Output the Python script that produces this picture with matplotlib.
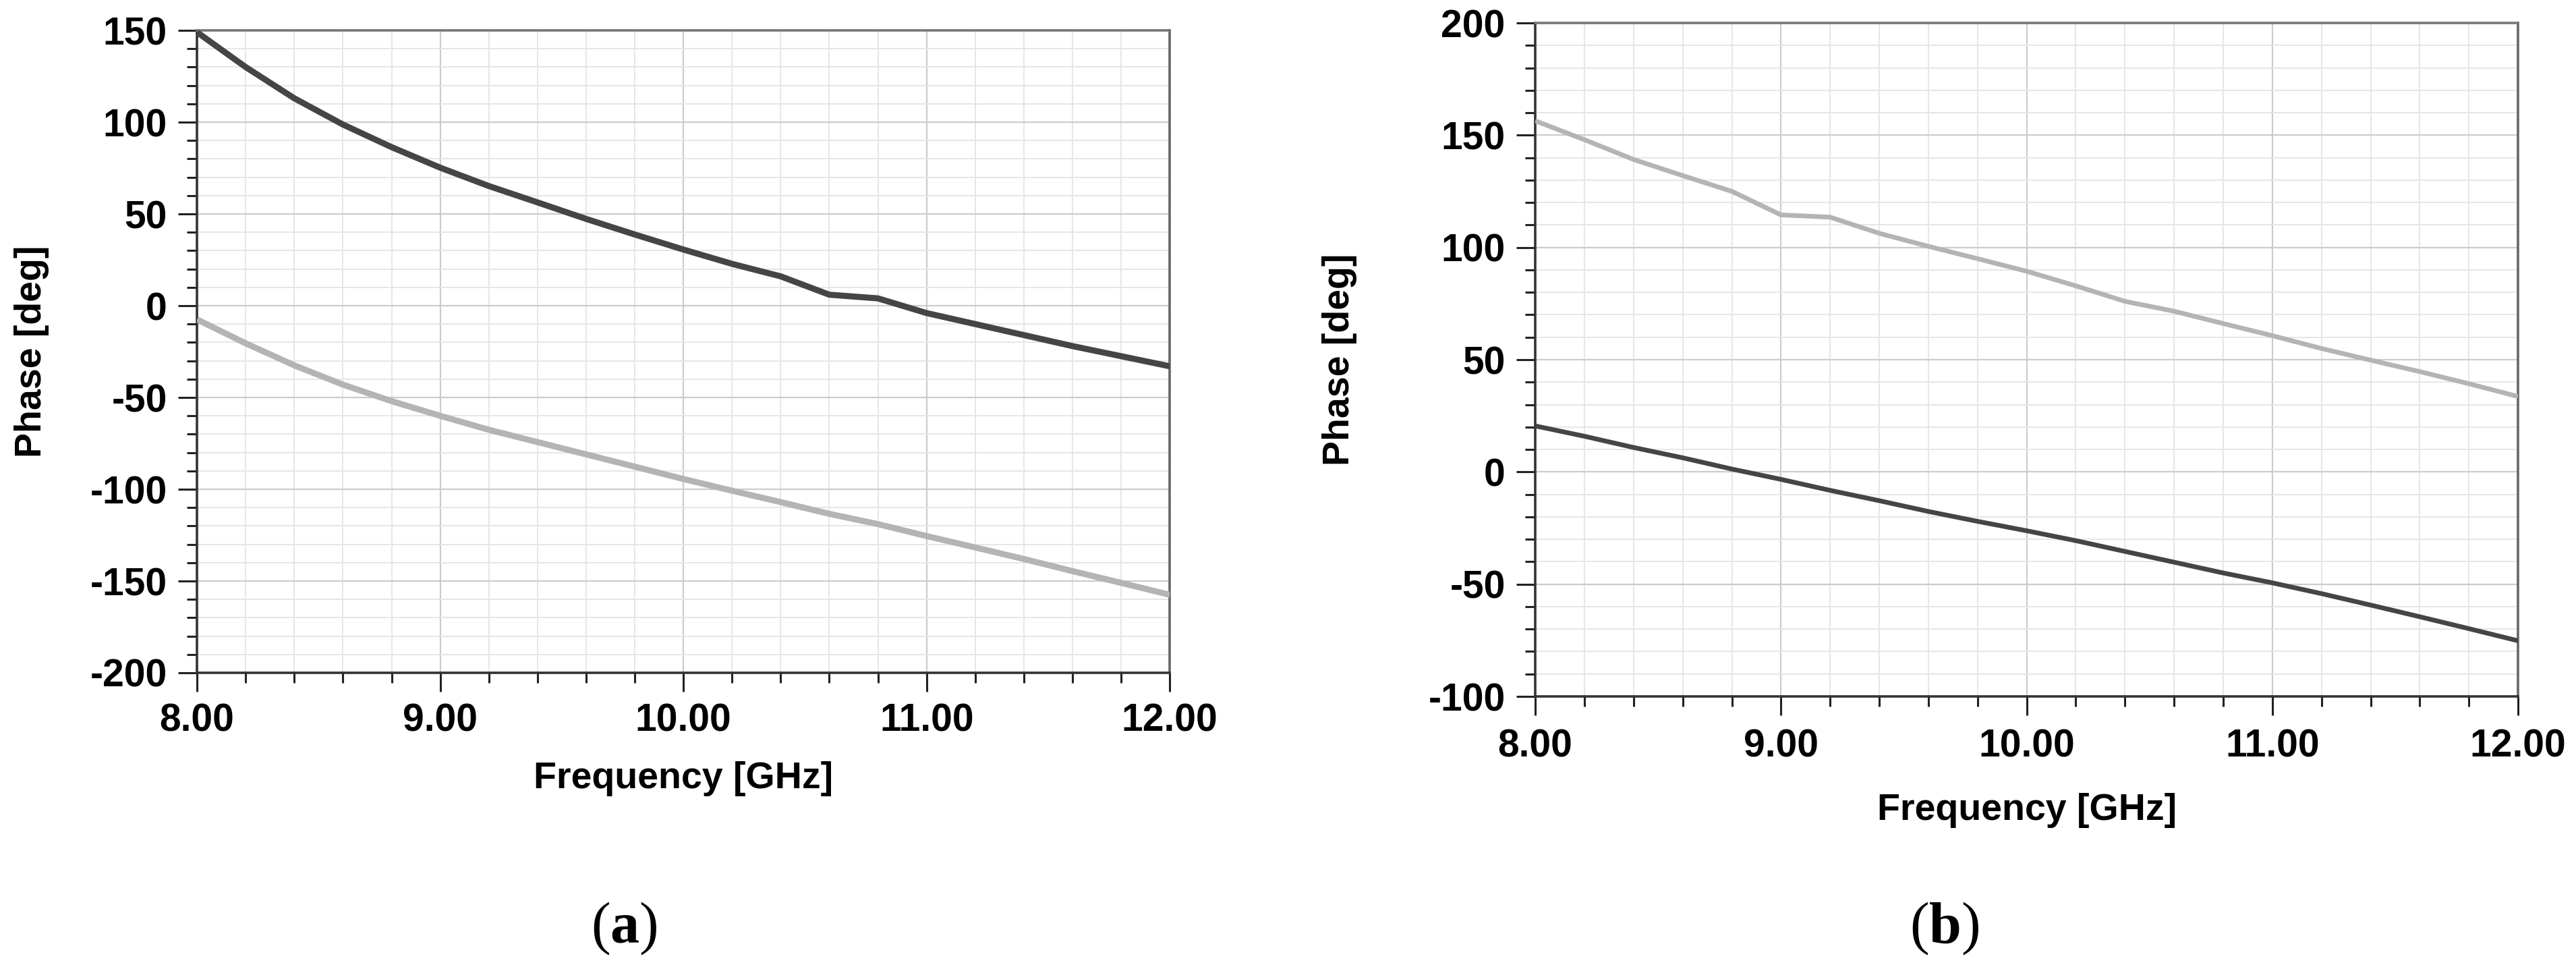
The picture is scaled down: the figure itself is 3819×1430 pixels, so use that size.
import matplotlib
matplotlib.use("Agg")
import matplotlib.pyplot as plt
from matplotlib.ticker import MultipleLocator, FormatStrFormatter

plt.rcParams['font.family'] = ['Liberation Sans', 'DejaVu Sans']
plt.rcParams['axes.unicode_minus'] = False
plt.rcParams['mathtext.fontset'] = 'custom'
plt.rcParams['mathtext.rm'] = 'Liberation Serif'
plt.rcParams['mathtext.bf'] = 'Liberation Serif:bold'

# frequency grid (GHz)
freq = [8.0, 8.2, 8.4, 8.6, 8.8, 9.0, 9.2, 9.4, 9.6, 9.8, 10.0,
        10.2, 10.4, 10.6, 10.8, 11.0, 11.2, 11.4, 11.6, 11.8, 12.0]

# panel (a)
dark_a = [149, 130, 113, 98.7, 86.4, 75.2, 65.2, 56.3, 47.3, 38.8, 30.6,
          22.8, 16, 6, 4, -4, -10, -16, -22, -27.5, -33]
light_a = [-7.5, -20.5, -32.5, -43, -52, -60, -67.6, -74.3, -81, -87.7, -94.4,
           -100.8, -107, -113.4, -119, -125.5, -131.7, -138, -144.6, -151, -157.5]

# panel (b)
light_b = [156.4, 148, 139.2, 132, 125, 114.5, 113.5, 106.3, 100.5, 95, 89.4,
           82.9, 76, 71.6, 66.1, 60.7, 55, 49.8, 44.7, 39.3, 33.6]
dark_b = [20.5, 15.9, 10.9, 6.3, 1.3, -3.3, -8.2, -12.8, -17.6, -22, -26.2,
          -30.6, -35.4, -40.2, -45, -49.4, -54.2, -59.3, -64.5, -69.8, -75.2]

DARK = '#454545'
LIGHT = '#b4b4b4'

fig = plt.figure(figsize=(38.19, 14.30), dpi=100)
ax_a = fig.add_axes([0.0765, 0.3028, 0.3776, 0.6657])
ax_b = fig.add_axes([0.5960, 0.2783, 0.3815, 0.6979])


def style(ax, ylim, ylab_x, xlab_y, xpad):
    ax.set_xlim(8, 12)
    ax.set_ylim(*ylim)
    ax.xaxis.set_major_locator(MultipleLocator(1))
    ax.xaxis.set_minor_locator(MultipleLocator(0.2))
    ax.yaxis.set_major_locator(MultipleLocator(50))
    ax.yaxis.set_minor_locator(MultipleLocator(10))
    ax.xaxis.set_major_formatter(FormatStrFormatter('%.2f'))
    ax.grid(which='major', color='#cccccc', lw=1.6)
    ax.grid(which='minor', color='#e6e6e6', lw=1.4)
    ax.set_axisbelow(True)
    ax.tick_params(which='major', length=20, width=2.2, color='#222222',
                   labelsize=41, pad=12, top=False, right=False)
    ax.tick_params(axis='x', which='major', pad=xpad)
    ax.tick_params(which='minor', length=11, width=2.2, color='#222222',
                   top=False, right=False)
    for lab in ax.get_xticklabels() + ax.get_yticklabels():
        lab.set_fontweight('bold')
    ax.spines['left'].set_color('#333333')
    ax.spines['bottom'].set_color('#333333')
    ax.spines['top'].set_color('#777777')
    ax.spines['right'].set_color('#666666')
    for s in ax.spines.values():
        s.set_linewidth(2.6)
    ax.set_xlabel('Frequency [GHz]', fontsize=40, fontweight='bold')
    ax.set_ylabel('Phase [deg]', fontsize=40, fontweight='bold')
    ax.yaxis.set_label_coords(ylab_x, 0.5)
    ax.xaxis.set_label_coords(0.5, xlab_y)


ax_a.plot(freq, dark_a, color=DARK, lw=6.5, solid_capstyle='butt', zorder=3)
ax_a.plot(freq, light_a, color=LIGHT, lw=6.5, solid_capstyle='butt', zorder=3)
style(ax_a, (-200, 150), -0.152, -0.138, 12)

ax_b.plot(freq, light_b, color=LIGHT, lw=5.0, solid_capstyle='butt', zorder=3)
ax_b.plot(freq, dark_b, color=DARK, lw=5.0, solid_capstyle='butt', zorder=3)
style(ax_b, (-100, 200), -0.181, -0.143, 14)

fig.text(925 / 3819, 1 - 1376 / 1430, r'($\mathbf{a}$)', fontsize=62,
         family='Liberation Serif', ha='center', va='center')
fig.text(2883 / 3819, 1 - 1376 / 1430, r'($\mathbf{b}$)', fontsize=62,
         family='Liberation Serif', ha='center', va='center')

fig.savefig('out.png', dpi=100, facecolor='white')
